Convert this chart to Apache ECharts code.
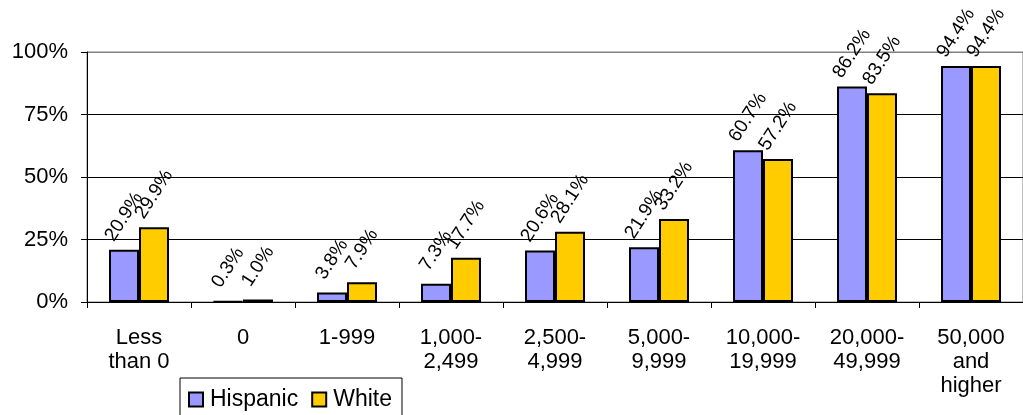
<!DOCTYPE html>
<html>
<head>
<meta charset="utf-8">
<script src="https://cdn.jsdelivr.net/npm/echarts@6/dist/echarts.min.js"></script>
<style>
  html, body { margin: 0; padding: 0; background: #fff; }
  #chart { width: 1023px; height: 415px; }
</style>
</head>
<body>
<div id="chart"></div>
<script>
// Share of households by net worth bracket
const categories = [
  'Less\nthan 0', '0', '1-999', '1,000-\n2,499', '2,500-\n4,999',
  '5,000-\n9,999', '10,000-\n19,999', '20,000-\n49,999', '50,000\nand\nhigher'
];
const hispanic = [20.9, 0.3, 3.8, 7.3, 20.6, 21.9, 60.7, 86.2, 94.4];
const white = [29.9, 1.0, 7.9, 17.7, 28.1, 33.2, 57.2, 83.5, 94.4];
const yTicks = [0, 25, 50, 75, 100];

const FONT = '"Liberation Sans", Arial, sans-serif';
const LABEL_ANGLE = 57;

const chart = echarts.init(document.getElementById('chart'), null, { renderer: 'canvas' });

function valueLabel(shiftX) {
  return {
    show: true,
    position: 'top',
    distance: 33,
    offset: [shiftX, 0],
    rotate: LABEL_ANGLE,
    align: 'center',
    verticalAlign: 'middle',
    fontFamily: FONT,
    fontSize: 19,
    color: '#000',
    formatter: p => p.value.toFixed(1) + '%'
  };
}

function barSeries(name, values, color, shiftX) {
  return {
    name: name,
    type: 'bar',
    data: values,
    barWidth: 30,
    barGap: '0%',
    itemStyle: { color: color, borderColor: '#000', borderWidth: 2 },
    label: valueLabel(shiftX),
    labelLayout: { hideOverlap: false },
    emphasis: { disabled: true },
    animation: false
  };
}

chart.setOption({
  animation: false,
  textStyle: { fontFamily: FONT },
  grid: {
    left: 87, top: 52, width: 939, height: 250,
    show: true, borderColor: '#808080', borderWidth: 1, backgroundColor: 'transparent'
  },
  legend: {
    left: 180, top: 378,
    orient: 'horizontal',
    borderColor: '#000', borderWidth: 1,
    padding: [10, 10, 10, 8],
    itemWidth: 14, itemHeight: 14, itemGap: 13,
    icon: 'rect',
    itemStyle: { borderColor: '#000', borderWidth: 2 },
    textStyle: { fontFamily: FONT, fontSize: 23, color: '#000', padding: [0, 0, 0, 2] },
    data: ['Hispanic', 'White']
  },
  xAxis: {
    type: 'category',
    data: categories,
    boundaryGap: true,
    axisLine: { show: true, lineStyle: { color: '#000', width: 1 } },
    axisTick: { show: true, length: 6, lineStyle: { color: '#000' }, alignWithLabel: false },
    axisLabel: {
      interval: 0, margin: 24,
      fontFamily: FONT, fontSize: 22, lineHeight: 24, color: '#000', align: 'center'
    },
    splitLine: { show: false }
  },
  yAxis: {
    type: 'value',
    min: yTicks[0], max: yTicks[yTicks.length - 1], interval: yTicks[1] - yTicks[0],
    axisLine: { show: true, lineStyle: { color: '#000', width: 1 } },
    axisTick: { show: true, length: 6, lineStyle: { color: '#000' } },
    axisLabel: {
      margin: 19, formatter: '{value}%',
      fontFamily: FONT, fontSize: 22, color: '#000'
    },
    splitLine: { show: true, lineStyle: { color: ['#000', '#000', '#000', '#000', '#808080'], width: 1 } }
  },
  series: [
    barSeries('Hispanic', hispanic, '#9999FF', 0),
    barSeries('White', white, '#FFCC00', 14)
  ]
});
</script>
</body>
</html>
